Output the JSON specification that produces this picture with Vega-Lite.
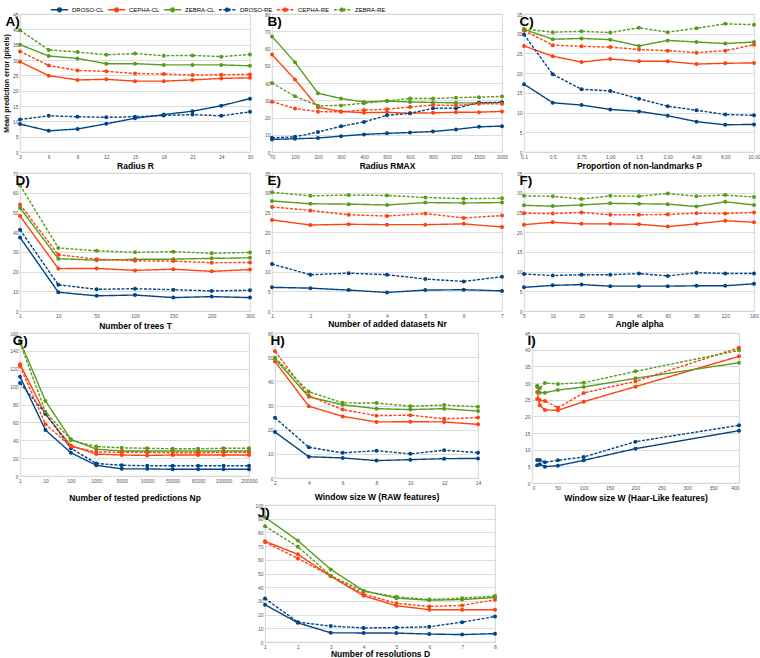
{
"$schema": "https://vega.github.io/schema/vega-lite/v6.json",
"padding": {"left": 2, "top": 0, "right": 2, "bottom": 0},
"autosize": {"type": "pad"},
"spacing": 0,
"config": {
  "font": "Liberation Sans",
  "view": {"stroke": "#c8c8c8", "strokeWidth": 0.8},
  "axis": {"labelFontSize": 5, "labelColor": "#555", "titleFontSize": 8.5, "titleFontWeight": "bold", "titleColor": "#000", "ticks": false, "domain": false, "gridColor": "#d4d4d4", "gridWidth": 0.8, "labelPadding": 2},
  "axisX": {"grid": false, "labelAngle": 0, "titlePadding": 2},
  "axisY": {"grid": true},
  "title": {"fontSize": 13.5, "fontWeight": "bold", "anchor": "start", "offset": -16, "dx": 3, "color": "#000"},
  "legend": {"labelFontSize": 6, "symbolStrokeWidth": 1.5, "symbolSize": 300, "columnPadding": 0, "labelOffset": 3}
},
"vconcat": [
 {"vconcat": [
  {"hconcat": [
    {"width": 230, "height": 138, "data": {"name": "A"}, "title": "A)",
     "mark": {"type": "line", "strokeWidth": 1.4, "point": {"filled": true, "size": 16}},
     "encoding": {
       "x": {"field": "x", "type": "ordinal", "sort": null, "scale": {"type": "point", "padding": 0}, "axis": {"title": "Radius R"}},
       "y": {"field": "v", "type": "quantitative", "scale": {"domain": [0, 45]}, "axis": {"title": "Mean prediction error (pixels)", "titleFontSize": 7, "titlePadding": 3, "values": [0,5,10,15,20,25,30,35,40,45]}},
       "color": {"field": "s", "type": "nominal", "scale": {"domain": ["DROSO-CL","CEPHA-CL","ZEBRA-CL","DROSO-RE","CEPHA-RE","ZEBRA-RE"], "range": ["#004586","#ff420e","#579d1c","#004586","#ff420e","#579d1c"]}, "legend": {"title": null, "orient": "none", "legendX": 30, "legendY": -14, "direction": "horizontal", "symbolType": "M-1,0H1M-0.22,0A0.22,0.22,0,1,1,0.22,0A0.22,0.22,0,1,1,-0.22,0"}},
       "strokeDash": {"field": "s", "type": "nominal", "scale": {"domain": ["DROSO-CL","CEPHA-CL","ZEBRA-CL","DROSO-RE","CEPHA-RE","ZEBRA-RE"], "range": [[1,0],[1,0],[1,0],[3,1.5],[3,1.5],[3,1.5]]}, "legend": {"title": null, "orient": "none", "legendX": 30, "legendY": -14, "direction": "horizontal", "symbolType": "M-1,0H1M-0.22,0A0.22,0.22,0,1,1,0.22,0A0.22,0.22,0,1,1,-0.22,0"}}
     }},
    {"width": 230, "height": 138, "data": {"name": "B"}, "title": "B)",
     "mark": {"type": "line", "strokeWidth": 1.4, "point": {"filled": true, "size": 16}},
     "encoding": {
       "x": {"field": "x", "type": "ordinal", "sort": null, "scale": {"type": "point", "padding": 0}, "axis": {"title": "Radius RMAX"}},
       "y": {"field": "v", "type": "quantitative", "scale": {"domain": [0, 80]}, "axis": {"title": null, "values": [0,10,20,30,40,50,60,70,80]}},
       "color": {"field": "s", "type": "nominal"},
       "strokeDash": {"field": "s", "type": "nominal"}
     }},
    {"width": 230, "height": 138, "data": {"name": "C"}, "title": "C)",
     "mark": {"type": "line", "strokeWidth": 1.4, "point": {"filled": true, "size": 16}},
     "encoding": {
       "x": {"field": "x", "type": "ordinal", "sort": null, "scale": {"type": "point", "padding": 0}, "axis": {"title": "Proportion of non-landmarks P"}},
       "y": {"field": "v", "type": "quantitative", "scale": {"domain": [0, 35]}, "axis": {"title": null, "values": [0,5,10,15,20,25,30,35]}},
       "color": {"field": "s", "type": "nominal"},
       "strokeDash": {"field": "s", "type": "nominal"}
     }}
  ], "spacing": 22, "bounds": "flush"},
  {"hconcat": [
    {"width": 230, "height": 138, "data": {"name": "D"}, "title": "D)",
     "mark": {"type": "line", "strokeWidth": 1.4, "point": {"filled": true, "size": 16}},
     "encoding": {
       "x": {"field": "x", "type": "ordinal", "sort": null, "scale": {"type": "point", "padding": 0}, "axis": {"title": "Number of trees T", "titlePadding": 3}},
       "y": {"field": "v", "type": "quantitative", "scale": {"domain": [0, 70]}, "axis": {"title": null, "values": [0,10,20,30,40,50,60,70]}},
       "color": {"field": "s", "type": "nominal"},
       "strokeDash": {"field": "s", "type": "nominal"}
     }},
    {"width": 230, "height": 138, "data": {"name": "E"}, "title": "E)",
     "mark": {"type": "line", "strokeWidth": 1.4, "point": {"filled": true, "size": 16}},
     "encoding": {
       "x": {"field": "x", "type": "ordinal", "sort": null, "scale": {"type": "point", "padding": 0}, "axis": {"title": "Number of added datasets Nr", "titlePadding": 1}},
       "y": {"field": "v", "type": "quantitative", "scale": {"domain": [0, 35]}, "axis": {"title": null, "values": [0,5,10,15,20,25,30,35]}},
       "color": {"field": "s", "type": "nominal"},
       "strokeDash": {"field": "s", "type": "nominal"}
     }},
    {"width": 230, "height": 138, "data": {"name": "F"}, "title": "F)",
     "mark": {"type": "line", "strokeWidth": 1.4, "point": {"filled": true, "size": 16}},
     "encoding": {
       "x": {"field": "x", "type": "ordinal", "sort": null, "scale": {"type": "point", "padding": 0}, "axis": {"title": "Angle alpha", "titlePadding": 1}},
       "y": {"field": "v", "type": "quantitative", "scale": {"domain": [0, 35]}, "axis": {"title": null, "values": [0,5,10,15,20,25,30,35]}},
       "color": {"field": "s", "type": "nominal"},
       "strokeDash": {"field": "s", "type": "nominal"}
     }}
  ], "spacing": 22, "bounds": "flush"},
  {"hconcat": [
    {"width": 229, "height": 143, "data": {"name": "G"}, "title": "G)",
     "mark": {"type": "line", "strokeWidth": 1.4, "point": {"filled": true, "size": 16}},
     "encoding": {
       "x": {"field": "x", "type": "ordinal", "sort": null, "scale": {"type": "point", "padding": 0}, "axis": {"title": "Number of tested predictions Np", "titlePadding": 10}},
       "y": {"field": "v", "type": "quantitative", "scale": {"domain": [0, 160]}, "axis": {"title": null, "values": [0,20,40,60,80,100,120,140,160]}},
       "color": {"field": "s", "type": "nominal"},
       "strokeDash": {"field": "s", "type": "nominal"}
     }},
    {"width": 203, "height": 145, "data": {"name": "H"}, "title": "H)",
     "mark": {"type": "line", "strokeWidth": 1.4, "point": {"filled": true, "size": 16}},
     "encoding": {
       "x": {"field": "x", "type": "ordinal", "sort": null, "scale": {"type": "point", "padding": 0}, "axis": {"title": "Window size W (RAW features)", "titlePadding": 7}},
       "y": {"field": "v", "type": "quantitative", "scale": {"domain": [0, 60]}, "axis": {"title": null, "values": [0,10,20,30,40,50,60]}},
       "color": {"field": "s", "type": "nominal"},
       "strokeDash": {"field": "s", "type": "nominal"}
     }},
    {"width": 2, "height": 10, "data": {"values": []}, "mark": "point", "view": {"stroke": null}},
    {"width": 207, "height": 150, "data": {"name": "I"}, "title": "I)",
     "mark": {"type": "line", "strokeWidth": 1.4, "point": {"filled": true, "size": 16}},
     "encoding": {
       "x": {"field": "x", "type": "quantitative", "scale": {"domain": [0, 400]}, "axis": {"title": "Window size W (Haar-Like features)", "titlePadding": 3, "values": [0,50,100,150,200,250,300,350,400]}},
       "y": {"field": "v", "type": "quantitative", "scale": {"domain": [0, 45]}, "axis": {"title": null, "values": [0,5,10,15,20,25,30,35,40,45]}},
       "color": {"field": "s", "type": "nominal"},
       "strokeDash": {"field": "s", "type": "nominal"}
     }}
  ], "spacing": 26, "bounds": "flush"}
 ], "spacing": 0},
  {"hconcat": [
    {"width": 223, "height": 137, "data": {"values": []}, "mark": "point", "view": {"stroke": null}},
    {"width": 230, "height": 137, "data": {"name": "J"}, "title": "J)",
     "mark": {"type": "line", "strokeWidth": 1.4, "point": {"filled": true, "size": 16}},
     "encoding": {
       "x": {"field": "x", "type": "ordinal", "sort": null, "scale": {"type": "point", "padding": 0}, "axis": {"title": "Number of resolutions D", "titlePadding": 0}},
       "y": {"field": "v", "type": "quantitative", "scale": {"domain": [0, 100]}, "axis": {"title": null, "values": [0,10,20,30,40,50,60,70,80,90,100]}},
       "color": {"field": "s", "type": "nominal"},
       "strokeDash": {"field": "s", "type": "nominal"}
     }}
  ], "spacing": 22, "bounds": "flush"}
],
"datasets": {
"A": [
{"x":"3","s":"DROSO-CL","v":9.1},{"x":"6","s":"DROSO-CL","v":6.9},{"x":"9","s":"DROSO-CL","v":7.5},{"x":"12","s":"DROSO-CL","v":9.2},{"x":"15","s":"DROSO-CL","v":11.0},{"x":"18","s":"DROSO-CL","v":12.2},{"x":"21","s":"DROSO-CL","v":13.3},{"x":"24","s":"DROSO-CL","v":15.1},{"x":"30","s":"DROSO-CL","v":17.4},
{"x":"3","s":"CEPHA-CL","v":29.4},{"x":"6","s":"CEPHA-CL","v":24.9},{"x":"9","s":"CEPHA-CL","v":23.5},{"x":"12","s":"CEPHA-CL","v":23.7},{"x":"15","s":"CEPHA-CL","v":23.1},{"x":"18","s":"CEPHA-CL","v":23.1},{"x":"21","s":"CEPHA-CL","v":23.5},{"x":"24","s":"CEPHA-CL","v":24.0},{"x":"30","s":"CEPHA-CL","v":24.2},
{"x":"3","s":"ZEBRA-CL","v":35.0},{"x":"6","s":"ZEBRA-CL","v":31.3},{"x":"9","s":"ZEBRA-CL","v":30.5},{"x":"12","s":"ZEBRA-CL","v":28.8},{"x":"15","s":"ZEBRA-CL","v":28.8},{"x":"18","s":"ZEBRA-CL","v":28.4},{"x":"21","s":"ZEBRA-CL","v":28.4},{"x":"24","s":"ZEBRA-CL","v":28.4},{"x":"30","s":"ZEBRA-CL","v":28.1},
{"x":"3","s":"DROSO-RE","v":10.6},{"x":"6","s":"DROSO-RE","v":11.8},{"x":"9","s":"DROSO-RE","v":11.5},{"x":"12","s":"DROSO-RE","v":11.3},{"x":"15","s":"DROSO-RE","v":11.5},{"x":"18","s":"DROSO-RE","v":11.9},{"x":"21","s":"DROSO-RE","v":12.2},{"x":"24","s":"DROSO-RE","v":11.8},{"x":"30","s":"DROSO-RE","v":13.1},
{"x":"3","s":"CEPHA-RE","v":32.8},{"x":"6","s":"CEPHA-RE","v":28.2},{"x":"9","s":"CEPHA-RE","v":26.6},{"x":"12","s":"CEPHA-RE","v":26.3},{"x":"15","s":"CEPHA-RE","v":25.6},{"x":"18","s":"CEPHA-RE","v":25.4},{"x":"21","s":"CEPHA-RE","v":25.1},{"x":"24","s":"CEPHA-RE","v":25.2},{"x":"30","s":"CEPHA-RE","v":25.3},
{"x":"3","s":"ZEBRA-RE","v":39.7},{"x":"6","s":"ZEBRA-RE","v":33.3},{"x":"9","s":"ZEBRA-RE","v":32.6},{"x":"12","s":"ZEBRA-RE","v":31.7},{"x":"15","s":"ZEBRA-RE","v":32.1},{"x":"18","s":"ZEBRA-RE","v":31.4},{"x":"21","s":"ZEBRA-RE","v":31.5},{"x":"24","s":"ZEBRA-RE","v":31.1},{"x":"30","s":"ZEBRA-RE","v":31.8}
],
"B": [
{"x":"70","s":"DROSO-CL","v":7.3},{"x":"100","s":"DROSO-CL","v":7.7},{"x":"200","s":"DROSO-CL","v":8.1},{"x":"300","s":"DROSO-CL","v":9.2},{"x":"400","s":"DROSO-CL","v":10.2},{"x":"500","s":"DROSO-CL","v":10.8},{"x":"600","s":"DROSO-CL","v":11.3},{"x":"800","s":"DROSO-CL","v":11.9},{"x":"1000","s":"DROSO-CL","v":13.1},{"x":"1500","s":"DROSO-CL","v":14.6},{"x":"2000","s":"DROSO-CL","v":15.0},
{"x":"70","s":"CEPHA-CL","v":56.5},{"x":"100","s":"CEPHA-CL","v":42.0},{"x":"200","s":"CEPHA-CL","v":26.0},{"x":"300","s":"CEPHA-CL","v":23.5},{"x":"400","s":"CEPHA-CL","v":22.8},{"x":"500","s":"CEPHA-CL","v":23.0},{"x":"600","s":"CEPHA-CL","v":22.5},{"x":"800","s":"CEPHA-CL","v":22.7},{"x":"1000","s":"CEPHA-CL","v":23.0},{"x":"1500","s":"CEPHA-CL","v":23.1},{"x":"2000","s":"CEPHA-CL","v":23.5},
{"x":"70","s":"ZEBRA-CL","v":67.0},{"x":"100","s":"ZEBRA-CL","v":52.0},{"x":"200","s":"ZEBRA-CL","v":34.1},{"x":"300","s":"ZEBRA-CL","v":31.0},{"x":"400","s":"ZEBRA-CL","v":29.0},{"x":"500","s":"ZEBRA-CL","v":29.5},{"x":"600","s":"ZEBRA-CL","v":29.0},{"x":"800","s":"ZEBRA-CL","v":28.7},{"x":"1000","s":"ZEBRA-CL","v":28.5},{"x":"1500","s":"ZEBRA-CL","v":28.5},{"x":"2000","s":"ZEBRA-CL","v":28.7},
{"x":"70","s":"DROSO-RE","v":8.2},{"x":"100","s":"DROSO-RE","v":8.8},{"x":"200","s":"DROSO-RE","v":11.6},{"x":"300","s":"DROSO-RE","v":14.9},{"x":"400","s":"DROSO-RE","v":17.4},{"x":"500","s":"DROSO-RE","v":21.3},{"x":"600","s":"DROSO-RE","v":22.4},{"x":"800","s":"DROSO-RE","v":25.3},{"x":"1000","s":"DROSO-RE","v":25.4},{"x":"1500","s":"DROSO-RE","v":28.6},{"x":"2000","s":"DROSO-RE","v":28.8},
{"x":"70","s":"CEPHA-RE","v":29.2},{"x":"100","s":"CEPHA-RE","v":25.2},{"x":"200","s":"CEPHA-RE","v":23.4},{"x":"300","s":"CEPHA-RE","v":23.3},{"x":"400","s":"CEPHA-RE","v":24.3},{"x":"500","s":"CEPHA-RE","v":24.8},{"x":"600","s":"CEPHA-RE","v":26.1},{"x":"800","s":"CEPHA-RE","v":27.2},{"x":"1000","s":"CEPHA-RE","v":26.9},{"x":"1500","s":"CEPHA-RE","v":28.0},{"x":"2000","s":"CEPHA-RE","v":27.9},
{"x":"70","s":"ZEBRA-RE","v":40.0},{"x":"100","s":"ZEBRA-RE","v":32.3},{"x":"200","s":"ZEBRA-RE","v":26.8},{"x":"300","s":"ZEBRA-RE","v":27.0},{"x":"400","s":"ZEBRA-RE","v":28.3},{"x":"500","s":"ZEBRA-RE","v":29.6},{"x":"600","s":"ZEBRA-RE","v":31.0},{"x":"800","s":"ZEBRA-RE","v":31.0},{"x":"1000","s":"ZEBRA-RE","v":31.5},{"x":"1500","s":"ZEBRA-RE","v":31.8},{"x":"2000","s":"ZEBRA-RE","v":32.2}
],
"C": [
{"x":"0.1","s":"DROSO-CL","v":17.2},{"x":"0.5","s":"DROSO-CL","v":12.5},{"x":"0.75","s":"DROSO-CL","v":11.9},{"x":"1,00","s":"DROSO-CL","v":10.8},{"x":"1.5","s":"DROSO-CL","v":10.3},{"x":"2,00","s":"DROSO-CL","v":9.2},{"x":"4,00","s":"DROSO-CL","v":7.7},{"x":"8,00","s":"DROSO-CL","v":6.9},{"x":"10,00","s":"DROSO-CL","v":7.0},
{"x":"0.1","s":"CEPHA-CL","v":26.9},{"x":"0.5","s":"CEPHA-CL","v":24.3},{"x":"0.75","s":"CEPHA-CL","v":22.8},{"x":"1,00","s":"CEPHA-CL","v":23.6},{"x":"1.5","s":"CEPHA-CL","v":23.0},{"x":"2,00","s":"CEPHA-CL","v":23.0},{"x":"4,00","s":"CEPHA-CL","v":22.3},{"x":"8,00","s":"CEPHA-CL","v":22.5},{"x":"10,00","s":"CEPHA-CL","v":22.6},
{"x":"0.1","s":"ZEBRA-CL","v":31.1},{"x":"0.5","s":"ZEBRA-CL","v":28.6},{"x":"0.75","s":"ZEBRA-CL","v":28.8},{"x":"1,00","s":"ZEBRA-CL","v":28.5},{"x":"1.5","s":"ZEBRA-CL","v":26.9},{"x":"2,00","s":"ZEBRA-CL","v":28.3},{"x":"4,00","s":"ZEBRA-CL","v":27.9},{"x":"8,00","s":"ZEBRA-CL","v":27.5},{"x":"10,00","s":"ZEBRA-CL","v":27.9},
{"x":"0.1","s":"DROSO-RE","v":29.8},{"x":"0.5","s":"DROSO-RE","v":19.7},{"x":"0.75","s":"DROSO-RE","v":15.9},{"x":"1,00","s":"DROSO-RE","v":15.5},{"x":"1.5","s":"DROSO-RE","v":13.5},{"x":"2,00","s":"DROSO-RE","v":11.6},{"x":"4,00","s":"DROSO-RE","v":10.6},{"x":"8,00","s":"DROSO-RE","v":9.5},{"x":"10,00","s":"DROSO-RE","v":9.3},
{"x":"0.1","s":"CEPHA-RE","v":30.8},{"x":"0.5","s":"CEPHA-RE","v":27.1},{"x":"0.75","s":"CEPHA-RE","v":26.8},{"x":"1,00","s":"CEPHA-RE","v":26.6},{"x":"1.5","s":"CEPHA-RE","v":26.0},{"x":"2,00","s":"CEPHA-RE","v":25.7},{"x":"4,00","s":"CEPHA-RE","v":25.2},{"x":"8,00","s":"CEPHA-RE","v":25.7},{"x":"10,00","s":"CEPHA-RE","v":27.2},
{"x":"0.1","s":"ZEBRA-RE","v":31.2},{"x":"0.5","s":"ZEBRA-RE","v":30.4},{"x":"0.75","s":"ZEBRA-RE","v":30.6},{"x":"1,00","s":"ZEBRA-RE","v":30.3},{"x":"1.5","s":"ZEBRA-RE","v":31.5},{"x":"2,00","s":"ZEBRA-RE","v":30.4},{"x":"4,00","s":"ZEBRA-RE","v":31.4},{"x":"8,00","s":"ZEBRA-RE","v":32.5},{"x":"10,00","s":"ZEBRA-RE","v":32.3}
],
"D": [
{"x":"1","s":"DROSO-CL","v":37.3},{"x":"10","s":"DROSO-CL","v":9.5},{"x":"50","s":"DROSO-CL","v":7.7},{"x":"100","s":"DROSO-CL","v":8.1},{"x":"150","s":"DROSO-CL","v":6.8},{"x":"200","s":"DROSO-CL","v":7.3},{"x":"300","s":"DROSO-CL","v":6.8},
{"x":"1","s":"CEPHA-CL","v":48.2},{"x":"10","s":"CEPHA-CL","v":21.5},{"x":"50","s":"CEPHA-CL","v":21.6},{"x":"100","s":"CEPHA-CL","v":20.6},{"x":"150","s":"CEPHA-CL","v":21.2},{"x":"200","s":"CEPHA-CL","v":20.1},{"x":"300","s":"CEPHA-CL","v":21.0},
{"x":"1","s":"ZEBRA-CL","v":52.3},{"x":"10","s":"ZEBRA-CL","v":26.5},{"x":"50","s":"ZEBRA-CL","v":25.8},{"x":"100","s":"ZEBRA-CL","v":26.2},{"x":"150","s":"ZEBRA-CL","v":26.3},{"x":"200","s":"ZEBRA-CL","v":26.7},{"x":"300","s":"ZEBRA-CL","v":27.0},
{"x":"1","s":"DROSO-RE","v":41.2},{"x":"10","s":"DROSO-RE","v":13.3},{"x":"50","s":"DROSO-RE","v":11.0},{"x":"100","s":"DROSO-RE","v":11.3},{"x":"150","s":"DROSO-RE","v":10.8},{"x":"200","s":"DROSO-RE","v":10.2},{"x":"300","s":"DROSO-RE","v":10.5},
{"x":"1","s":"CEPHA-RE","v":54.0},{"x":"10","s":"CEPHA-RE","v":28.5},{"x":"50","s":"CEPHA-RE","v":26.3},{"x":"100","s":"CEPHA-RE","v":25.5},{"x":"150","s":"CEPHA-RE","v":25.3},{"x":"200","s":"CEPHA-RE","v":24.5},{"x":"300","s":"CEPHA-RE","v":24.6},
{"x":"1","s":"ZEBRA-RE","v":63.8},{"x":"10","s":"ZEBRA-RE","v":32.0},{"x":"50","s":"ZEBRA-RE","v":30.5},{"x":"100","s":"ZEBRA-RE","v":29.8},{"x":"150","s":"ZEBRA-RE","v":30.1},{"x":"200","s":"ZEBRA-RE","v":29.3},{"x":"300","s":"ZEBRA-RE","v":29.7}
],
"E": [
{"x":"1","s":"DROSO-CL","v":6.0},{"x":"2","s":"DROSO-CL","v":5.8},{"x":"3","s":"DROSO-CL","v":5.3},{"x":"4","s":"DROSO-CL","v":4.7},{"x":"5","s":"DROSO-CL","v":5.3},{"x":"6","s":"DROSO-CL","v":5.4},{"x":"7","s":"DROSO-CL","v":5.1},
{"x":"1","s":"CEPHA-CL","v":23.1},{"x":"2","s":"CEPHA-CL","v":21.8},{"x":"3","s":"CEPHA-CL","v":22.0},{"x":"4","s":"CEPHA-CL","v":21.9},{"x":"5","s":"CEPHA-CL","v":21.9},{"x":"6","s":"CEPHA-CL","v":22.1},{"x":"7","s":"CEPHA-CL","v":21.3},
{"x":"1","s":"ZEBRA-CL","v":27.9},{"x":"2","s":"ZEBRA-CL","v":27.2},{"x":"3","s":"ZEBRA-CL","v":27.1},{"x":"4","s":"ZEBRA-CL","v":26.9},{"x":"5","s":"ZEBRA-CL","v":27.5},{"x":"6","s":"ZEBRA-CL","v":27.4},{"x":"7","s":"ZEBRA-CL","v":27.5},
{"x":"1","s":"DROSO-RE","v":11.9},{"x":"2","s":"DROSO-RE","v":9.2},{"x":"3","s":"DROSO-RE","v":9.6},{"x":"4","s":"DROSO-RE","v":9.2},{"x":"5","s":"DROSO-RE","v":8.1},{"x":"6","s":"DROSO-RE","v":7.5},{"x":"7","s":"DROSO-RE","v":8.7},
{"x":"1","s":"CEPHA-RE","v":26.4},{"x":"2","s":"CEPHA-RE","v":25.5},{"x":"3","s":"CEPHA-RE","v":24.4},{"x":"4","s":"CEPHA-RE","v":24.1},{"x":"5","s":"CEPHA-RE","v":24.7},{"x":"6","s":"CEPHA-RE","v":23.6},{"x":"7","s":"CEPHA-RE","v":24.2},
{"x":"1","s":"ZEBRA-RE","v":30.1},{"x":"2","s":"ZEBRA-RE","v":29.2},{"x":"3","s":"ZEBRA-RE","v":29.4},{"x":"4","s":"ZEBRA-RE","v":29.3},{"x":"5","s":"ZEBRA-RE","v":28.8},{"x":"6","s":"ZEBRA-RE","v":28.5},{"x":"7","s":"ZEBRA-RE","v":28.6}
],
"F": [
{"x":"5","s":"DROSO-CL","v":6.0},{"x":"10","s":"DROSO-CL","v":6.5},{"x":"20","s":"DROSO-CL","v":6.7},{"x":"30","s":"DROSO-CL","v":6.3},{"x":"45","s":"DROSO-CL","v":6.3},{"x":"60","s":"DROSO-CL","v":6.3},{"x":"90","s":"DROSO-CL","v":6.4},{"x":"120","s":"DROSO-CL","v":6.4},{"x":"180","s":"DROSO-CL","v":6.9},
{"x":"5","s":"CEPHA-CL","v":21.9},{"x":"10","s":"CEPHA-CL","v":22.5},{"x":"20","s":"CEPHA-CL","v":22.1},{"x":"30","s":"CEPHA-CL","v":22.1},{"x":"45","s":"CEPHA-CL","v":22.0},{"x":"60","s":"CEPHA-CL","v":21.4},{"x":"90","s":"CEPHA-CL","v":22.1},{"x":"120","s":"CEPHA-CL","v":22.9},{"x":"180","s":"CEPHA-CL","v":22.5},
{"x":"5","s":"ZEBRA-CL","v":26.8},{"x":"10","s":"ZEBRA-CL","v":26.6},{"x":"20","s":"ZEBRA-CL","v":26.9},{"x":"30","s":"ZEBRA-CL","v":27.3},{"x":"45","s":"ZEBRA-CL","v":27.2},{"x":"60","s":"ZEBRA-CL","v":27.1},{"x":"90","s":"ZEBRA-CL","v":26.5},{"x":"120","s":"ZEBRA-CL","v":27.7},{"x":"180","s":"ZEBRA-CL","v":26.9},
{"x":"5","s":"DROSO-RE","v":9.4},{"x":"10","s":"DROSO-RE","v":9.0},{"x":"20","s":"DROSO-RE","v":9.2},{"x":"30","s":"DROSO-RE","v":9.2},{"x":"45","s":"DROSO-RE","v":9.5},{"x":"60","s":"DROSO-RE","v":8.9},{"x":"90","s":"DROSO-RE","v":9.7},{"x":"120","s":"DROSO-RE","v":9.5},{"x":"180","s":"DROSO-RE","v":9.5},
{"x":"5","s":"CEPHA-RE","v":24.8},{"x":"10","s":"CEPHA-RE","v":24.7},{"x":"20","s":"CEPHA-RE","v":25.0},{"x":"30","s":"CEPHA-RE","v":24.4},{"x":"45","s":"CEPHA-RE","v":24.4},{"x":"60","s":"CEPHA-RE","v":24.5},{"x":"90","s":"CEPHA-RE","v":24.8},{"x":"120","s":"CEPHA-RE","v":24.7},{"x":"180","s":"CEPHA-RE","v":25.0},
{"x":"5","s":"ZEBRA-RE","v":29.2},{"x":"10","s":"ZEBRA-RE","v":29.1},{"x":"20","s":"ZEBRA-RE","v":28.4},{"x":"30","s":"ZEBRA-RE","v":29.2},{"x":"45","s":"ZEBRA-RE","v":29.1},{"x":"60","s":"ZEBRA-RE","v":29.8},{"x":"90","s":"ZEBRA-RE","v":29.1},{"x":"120","s":"ZEBRA-RE","v":29.4},{"x":"180","s":"ZEBRA-RE","v":28.9}
],
"G": [
{"x":"1","s":"DROSO-CL","v":111},{"x":"10","s":"DROSO-CL","v":51.5},{"x":"100","s":"DROSO-CL","v":26},{"x":"1000","s":"DROSO-CL","v":12},{"x":"5000","s":"DROSO-CL","v":8},{"x":"10000","s":"DROSO-CL","v":8},{"x":"50000","s":"DROSO-CL","v":7.5},{"x":"60000","s":"DROSO-CL","v":7.5},{"x":"100000","s":"DROSO-CL","v":7.5},{"x":"200000","s":"DROSO-CL","v":7.5},
{"x":"1","s":"CEPHA-CL","v":125},{"x":"10","s":"CEPHA-CL","v":69},{"x":"100","s":"CEPHA-CL","v":34},{"x":"1000","s":"CEPHA-CL","v":24.5},{"x":"5000","s":"CEPHA-CL","v":23.5},{"x":"10000","s":"CEPHA-CL","v":23},{"x":"50000","s":"CEPHA-CL","v":23.5},{"x":"60000","s":"CEPHA-CL","v":23.5},{"x":"100000","s":"CEPHA-CL","v":23.5},{"x":"200000","s":"CEPHA-CL","v":23.5},
{"x":"1","s":"ZEBRA-CL","v":151},{"x":"10","s":"ZEBRA-CL","v":84},{"x":"100","s":"ZEBRA-CL","v":41},{"x":"1000","s":"ZEBRA-CL","v":30},{"x":"5000","s":"ZEBRA-CL","v":28},{"x":"10000","s":"ZEBRA-CL","v":28},{"x":"50000","s":"ZEBRA-CL","v":28},{"x":"60000","s":"ZEBRA-CL","v":28},{"x":"100000","s":"ZEBRA-CL","v":28},{"x":"200000","s":"ZEBRA-CL","v":28},
{"x":"1","s":"DROSO-RE","v":104},{"x":"10","s":"DROSO-RE","v":70},{"x":"100","s":"DROSO-RE","v":31},{"x":"1000","s":"DROSO-RE","v":14},{"x":"5000","s":"DROSO-RE","v":12},{"x":"10000","s":"DROSO-RE","v":11.5},{"x":"50000","s":"DROSO-RE","v":11.5},{"x":"60000","s":"DROSO-RE","v":11.5},{"x":"100000","s":"DROSO-RE","v":11.5},{"x":"200000","s":"DROSO-RE","v":11.5},
{"x":"1","s":"CEPHA-RE","v":123},{"x":"10","s":"CEPHA-RE","v":58},{"x":"100","s":"CEPHA-RE","v":33},{"x":"1000","s":"CEPHA-RE","v":27},{"x":"5000","s":"CEPHA-RE","v":26.5},{"x":"10000","s":"CEPHA-RE","v":26.5},{"x":"50000","s":"CEPHA-RE","v":26},{"x":"60000","s":"CEPHA-RE","v":26},{"x":"100000","s":"CEPHA-RE","v":26.5},{"x":"200000","s":"CEPHA-RE","v":26.5},
{"x":"1","s":"ZEBRA-RE","v":149},{"x":"10","s":"ZEBRA-RE","v":72},{"x":"100","s":"ZEBRA-RE","v":40},{"x":"1000","s":"ZEBRA-RE","v":33},{"x":"5000","s":"ZEBRA-RE","v":31.5},{"x":"10000","s":"ZEBRA-RE","v":31},{"x":"50000","s":"ZEBRA-RE","v":30.5},{"x":"60000","s":"ZEBRA-RE","v":30.5},{"x":"100000","s":"ZEBRA-RE","v":31},{"x":"200000","s":"ZEBRA-RE","v":31}
],
"H": [
{"x":"2","s":"DROSO-CL","v":19.0},{"x":"4","s":"DROSO-CL","v":8.8},{"x":"6","s":"DROSO-CL","v":8.3},{"x":"8","s":"DROSO-CL","v":7.2},{"x":"10","s":"DROSO-CL","v":7.6},{"x":"12","s":"DROSO-CL","v":8.0},{"x":"14","s":"DROSO-CL","v":8.1},
{"x":"2","s":"CEPHA-CL","v":48.2},{"x":"4","s":"CEPHA-CL","v":29.7},{"x":"6","s":"CEPHA-CL","v":25.5},{"x":"8","s":"CEPHA-CL","v":23.2},{"x":"10","s":"CEPHA-CL","v":23.3},{"x":"12","s":"CEPHA-CL","v":23.2},{"x":"14","s":"CEPHA-CL","v":22.2},
{"x":"2","s":"ZEBRA-CL","v":49.3},{"x":"4","s":"ZEBRA-CL","v":33.6},{"x":"6","s":"ZEBRA-CL","v":30.3},{"x":"8","s":"ZEBRA-CL","v":28.7},{"x":"10","s":"ZEBRA-CL","v":28.3},{"x":"12","s":"ZEBRA-CL","v":28.7},{"x":"14","s":"ZEBRA-CL","v":27.7},
{"x":"2","s":"DROSO-RE","v":24.9},{"x":"4","s":"DROSO-RE","v":12.7},{"x":"6","s":"DROSO-RE","v":10.4},{"x":"8","s":"DROSO-RE","v":11.3},{"x":"10","s":"DROSO-RE","v":10.0},{"x":"12","s":"DROSO-RE","v":11.5},{"x":"14","s":"DROSO-RE","v":10.5},
{"x":"2","s":"CEPHA-RE","v":52.5},{"x":"4","s":"CEPHA-RE","v":34.0},{"x":"6","s":"CEPHA-RE","v":28.3},{"x":"8","s":"CEPHA-RE","v":25.8},{"x":"10","s":"CEPHA-RE","v":26.0},{"x":"12","s":"CEPHA-RE","v":24.5},{"x":"14","s":"CEPHA-RE","v":25.0},
{"x":"2","s":"ZEBRA-RE","v":49.8},{"x":"4","s":"ZEBRA-RE","v":35.7},{"x":"6","s":"ZEBRA-RE","v":31.1},{"x":"8","s":"ZEBRA-RE","v":31.0},{"x":"10","s":"ZEBRA-RE","v":29.7},{"x":"12","s":"ZEBRA-RE","v":30.2},{"x":"14","s":"ZEBRA-RE","v":29.5}
],
"I": [
{"x":10,"s":"DROSO-CL","v":5.3},{"x":15,"s":"DROSO-CL","v":5.6},{"x":25,"s":"DROSO-CL","v":4.9},{"x":50,"s":"DROSO-CL","v":5.2},{"x":100,"s":"DROSO-CL","v":6.8},{"x":200,"s":"DROSO-CL","v":10.3},{"x":400,"s":"DROSO-CL","v":15.7},
{"x":10,"s":"CEPHA-CL","v":27.3},{"x":15,"s":"CEPHA-CL","v":23.3},{"x":25,"s":"CEPHA-CL","v":21.9},{"x":50,"s":"CEPHA-CL","v":21.8},{"x":100,"s":"CEPHA-CL","v":24.4},{"x":200,"s":"CEPHA-CL","v":28.9},{"x":400,"s":"CEPHA-CL","v":38.0},
{"x":10,"s":"ZEBRA-CL","v":28.8},{"x":15,"s":"ZEBRA-CL","v":27.1},{"x":25,"s":"ZEBRA-CL","v":27.1},{"x":50,"s":"ZEBRA-CL","v":27.9},{"x":100,"s":"ZEBRA-CL","v":28.8},{"x":200,"s":"ZEBRA-CL","v":31.4},{"x":400,"s":"ZEBRA-CL","v":36.1},
{"x":10,"s":"DROSO-RE","v":6.9},{"x":15,"s":"DROSO-RE","v":6.9},{"x":25,"s":"DROSO-RE","v":6.2},{"x":50,"s":"DROSO-RE","v":6.8},{"x":100,"s":"DROSO-RE","v":7.8},{"x":200,"s":"DROSO-RE","v":12.4},{"x":400,"s":"DROSO-RE","v":17.3},
{"x":10,"s":"CEPHA-RE","v":25.2},{"x":15,"s":"CEPHA-RE","v":24.9},{"x":25,"s":"CEPHA-RE","v":24.6},{"x":50,"s":"CEPHA-RE","v":22.6},{"x":100,"s":"CEPHA-RE","v":27.0},{"x":200,"s":"CEPHA-RE","v":30.5},{"x":400,"s":"CEPHA-RE","v":40.6},
{"x":10,"s":"ZEBRA-RE","v":29.2},{"x":15,"s":"ZEBRA-RE","v":28.4},{"x":25,"s":"ZEBRA-RE","v":30.0},{"x":50,"s":"ZEBRA-RE","v":29.7},{"x":100,"s":"ZEBRA-RE","v":30.1},{"x":200,"s":"ZEBRA-RE","v":33.5},{"x":400,"s":"ZEBRA-RE","v":39.8}
],
"J": [
{"x":"1","s":"DROSO-CL","v":27.2},{"x":"2","s":"DROSO-CL","v":14.0},{"x":"3","s":"DROSO-CL","v":6.7},{"x":"4","s":"DROSO-CL","v":6.6},{"x":"5","s":"DROSO-CL","v":6.5},{"x":"6","s":"DROSO-CL","v":5.8},{"x":"7","s":"DROSO-CL","v":5.4},{"x":"8","s":"DROSO-CL","v":6.1},
{"x":"1","s":"CEPHA-CL","v":73.5},{"x":"2","s":"CEPHA-CL","v":64.0},{"x":"3","s":"CEPHA-CL","v":48.0},{"x":"4","s":"CEPHA-CL","v":33.7},{"x":"5","s":"CEPHA-CL","v":26.5},{"x":"6","s":"CEPHA-CL","v":23.6},{"x":"7","s":"CEPHA-CL","v":23.5},{"x":"8","s":"CEPHA-CL","v":23.5},
{"x":"1","s":"ZEBRA-CL","v":91.0},{"x":"2","s":"ZEBRA-CL","v":74.0},{"x":"3","s":"ZEBRA-CL","v":53.0},{"x":"4","s":"ZEBRA-CL","v":37.5},{"x":"5","s":"ZEBRA-CL","v":32.0},{"x":"6","s":"ZEBRA-CL","v":30.5},{"x":"7","s":"ZEBRA-CL","v":31.0},{"x":"8","s":"ZEBRA-CL","v":32.5},
{"x":"1","s":"DROSO-RE","v":31.8},{"x":"2","s":"DROSO-RE","v":14.5},{"x":"3","s":"DROSO-RE","v":11.6},{"x":"4","s":"DROSO-RE","v":10.3},{"x":"5","s":"DROSO-RE","v":10.5},{"x":"6","s":"DROSO-RE","v":11.1},{"x":"7","s":"DROSO-RE","v":14.5},{"x":"8","s":"DROSO-RE","v":18.6},
{"x":"1","s":"CEPHA-RE","v":73.0},{"x":"2","s":"CEPHA-RE","v":61.0},{"x":"3","s":"CEPHA-RE","v":48.2},{"x":"4","s":"CEPHA-RE","v":35.0},{"x":"5","s":"CEPHA-RE","v":28.2},{"x":"6","s":"CEPHA-RE","v":26.0},{"x":"7","s":"CEPHA-RE","v":26.7},{"x":"8","s":"CEPHA-RE","v":30.8},
{"x":"1","s":"ZEBRA-RE","v":84.5},{"x":"2","s":"ZEBRA-RE","v":69.5},{"x":"3","s":"ZEBRA-RE","v":48.5},{"x":"4","s":"ZEBRA-RE","v":37.0},{"x":"5","s":"ZEBRA-RE","v":33.0},{"x":"6","s":"ZEBRA-RE","v":31.0},{"x":"7","s":"ZEBRA-RE","v":32.0},{"x":"8","s":"ZEBRA-RE","v":33.5}
]
}
}
